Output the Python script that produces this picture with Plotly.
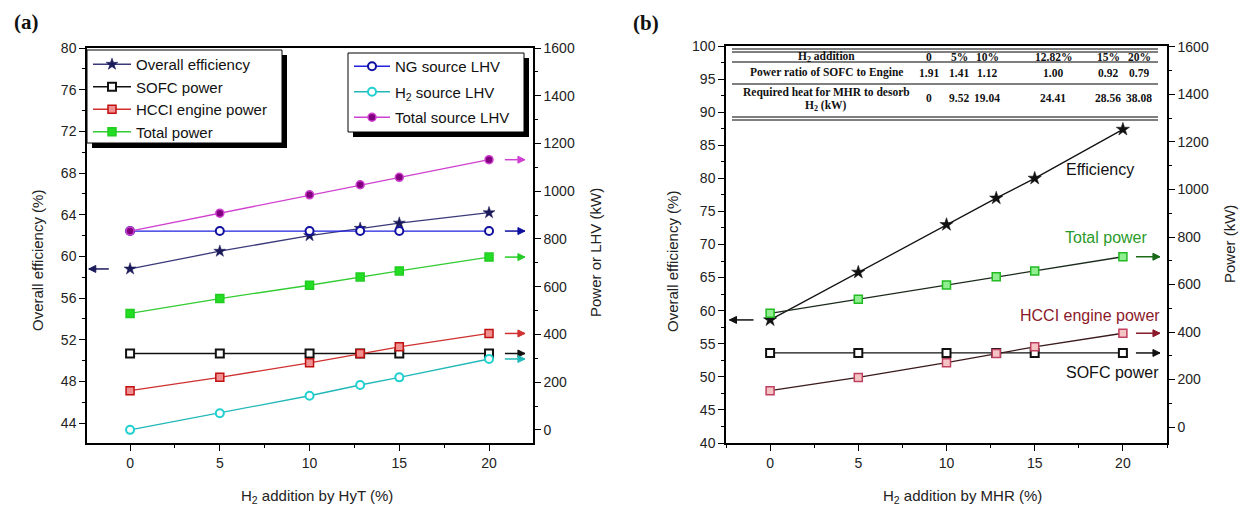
import plotly.graph_objects as go

W, H = 1248, 510

# ---------------- data ----------------
h2_pct = [0, 5, 10, 12.82, 15, 20]

# panel (a) - HyT
eff_a = [58.8, 60.5, 62.0, 62.7, 63.2, 64.2]
sofc_a = [320, 320, 320, 320, 320, 320]
hcci_a = [164, 220, 281, 320, 348, 404]
total_a = [488, 550, 606, 641, 666, 724]
ng_lhv_a = [833, 833, 833, 833, 833, 833]
h2_lhv_a = [0, 70, 143, 188, 220, 297]
tot_lhv_a = [833, 908, 985, 1027, 1058, 1132]

# panel (b) - MHR
eff_b = [58.6, 65.8, 73.0, 77.0, 80.0, 87.4]
total_b = [479, 538, 598, 633, 657, 717]
hcci_b = [153, 209, 271, 310, 338, 395]
sofc_b = [312, 312, 312, 312, 312, 312]

# table in panel (b)
tbl_header = ["H<sub>2</sub> addition", "0", "5%", "10%", "12.82%", "15%", "20%"]
tbl_ratio = ["Power ratio of SOFC to Engine", "1.91", "1.41", "1.12", "1.00", "0.92", "0.79"]
tbl_heat_label = ["Required heat for MHR to desorb", "H<sub>2</sub> (kW)"]
tbl_heat = ["0", "9.52", "19.04", "24.41", "28.56", "38.08"]

x_ticks = [0, 5, 10, 15, 20]


def px(x):
    return x / W


def py(y):
    return 1 - y / H


FONT = "Liberation Sans, Arial, sans-serif"
SERIF = "Liberation Serif, Times New Roman, serif"

fig = go.Figure()


def add(x, y, name, xa, ya, line_color, symbol, mfill, mline, legend=None, size=8, mlw=1.5, show=True):
    fig.add_trace(go.Scatter(
        x=x, y=y, name=name, mode="lines+markers", xaxis=xa, yaxis=ya,
        line=dict(color=line_color, width=1.3),
        marker=dict(symbol=symbol, size=size, color=mfill, line=dict(color=mline, width=mlw)),
        showlegend=show, legend=legend if legend else "legend", legendgroup=name,
    ))


# panel (a)
add(h2_pct, eff_a, "Overall efficiency", "x", "y", "#3a3a7a", "star", "#1a1a5a", "#1a1a5a", "legend", size=9, mlw=0.5)
add(h2_pct, sofc_a, "SOFC power", "x", "y2", "#111111", "square", "#ffffff", "#111111", "legend", mlw=2)
add(h2_pct, hcci_a, "HCCI engine power", "x", "y2", "#d03030", "square", "#f09090", "#c01010", "legend")
add(h2_pct, total_a, "Total power", "x", "y2", "#33cc33", "square", "#22dd22", "#22cc22", "legend")
add(h2_pct, ng_lhv_a, "NG source LHV", "x", "y2", "#2020e0", "circle", "#ffffff", "#1010a0", "legend2", mlw=2)
add(h2_pct, h2_lhv_a, "H<sub>2</sub> source LHV", "x", "y2", "#20b8b8", "circle", "#ffffff", "#20d0d0", "legend2", mlw=2)
add(h2_pct, tot_lhv_a, "Total source LHV", "x", "y2", "#d040d0", "circle", "#800080", "#d040d0", "legend2")

# panel (b)
add(h2_pct, eff_b, "Efficiency", "x2", "y3", "#111111", "star", "#111111", "#111111", size=10, mlw=0.5, show=False)
add(h2_pct, total_b, "Total power (b)", "x2", "y4", "#1a2a1a", "square", "#90ee90", "#22bb22", show=False)
add(h2_pct, sofc_b, "SOFC power (b)", "x2", "y4", "#111111", "square", "#ffffff", "#111111", mlw=2, show=False)
add(h2_pct, hcci_b, "HCCI engine power (b)", "x2", "y4", "#3a1a1a", "square", "#f4c4c4", "#c04060", show=False)

tickfont = dict(family=FONT, size=14, color="#222")
common = dict(showline=True, linecolor="black", linewidth=1.5, ticks="outside", ticklen=6,
              tickwidth=1.2, tickcolor="black", showgrid=False, zeroline=False, tickfont=tickfont,
              automargin=False)

fig.update_layout(
    template="none",
    width=W, height=H, margin=dict(l=0, r=0, t=0, b=0, pad=0, autoexpand=False),
    paper_bgcolor="white", plot_bgcolor="white",
    font=dict(family=FONT, size=14, color="#222"),
    xaxis=dict(domain=[px(87), px(533)], range=[-2.4, 22.45], anchor="y", tickvals=x_ticks,
               mirror=True, minor=dict(ticks="outside", ticklen=3, dtick=2.5, tick0=0, tickcolor="black"), **common),
    yaxis=dict(domain=[py(443), py(48)], range=[42.1, 80], anchor="x", tick0=0, dtick=4,
               minor=dict(ticks="outside", ticklen=3, dtick=2, tick0=0, tickcolor="black"), **common),
    yaxis2=dict(range=[-55, 1600], overlaying="y", side="right", anchor="x", tick0=0, dtick=200,
                minor=dict(ticks="outside", ticklen=3, dtick=100, tick0=0, tickcolor="black"), **common),
    xaxis2=dict(domain=[px(726), px(1167)], range=[-2.5, 22.5], anchor="y3", tickvals=x_ticks,
                mirror=True, minor=dict(ticks="outside", ticklen=3, dtick=2.5, tick0=0, tickcolor="black"), **common),
    yaxis3=dict(domain=[py(443), py(46)], range=[40, 100], anchor="x2", tick0=0, dtick=5,
                minor=dict(ticks="outside", ticklen=3, dtick=2.5, tick0=0, tickcolor="black"), **common),
    yaxis4=dict(range=[-67, 1604], overlaying="y3", side="right", anchor="x2", tick0=0, dtick=200,
                minor=dict(ticks="outside", ticklen=3, dtick=100, tick0=0, tickcolor="black"), **common),
    legend=dict(x=px(88), y=py(48), xanchor="left", yanchor="top", bgcolor="rgba(0,0,0,0)", itemwidth=38,
                borderwidth=0, font=dict(family=FONT, size=15, color="#111"), tracegroupgap=0),
    legend2=dict(x=px(349), y=py(50), xanchor="left", yanchor="top", bgcolor="rgba(0,0,0,0)", itemwidth=36,
                 borderwidth=0, font=dict(family=FONT, size=15, color="#111"), tracegroupgap=3),
)

shapes = []


def rect(x0, y0, x1, y1, fill, line_w=0):
    shapes.append(dict(type="rect", xref="paper", yref="paper", x0=px(x0), x1=px(x1), y0=py(y1), y1=py(y0),
                       fillcolor=fill, line=dict(color="black", width=line_w), layer="above"))


def hline(x0, x1, y, w=1.2):
    shapes.append(dict(type="line", xref="paper", yref="paper", x0=px(x0), x1=px(x1), y0=py(y), y1=py(y),
                       line=dict(color="black", width=w), layer="above"))


def arrow(xref, yref, x, y, color, length):
    # length > 0: arrow points left (tail to the right); < 0: points right
    shapes.append(dict(type="line", xref=xref, yref=yref, xsizemode="pixel", ysizemode="pixel",
                       xanchor=x, yanchor=y, x0=0, x1=length, y0=0, y1=0,
                       line=dict(color=color, width=1.5), layer="above"))
    d = 7 if length > 0 else -7
    shapes.append(dict(type="path", xref=xref, yref=yref, xsizemode="pixel", ysizemode="pixel",
                       xanchor=x, yanchor=y, path=f"M0,0 L{d},3.5 L{d},-3.5 Z",
                       fillcolor=color, line=dict(color=color, width=1), layer="above"))


# legend boxes with shadow
rect(92, 55, 287, 148, "black")
rect(87, 50, 282, 143, "white", 1)
rect(353, 58, 529, 137, "black")
rect(348, 53, 524, 132, "white", 1)

# table lines
TX0, TX1 = 732, 1158
for yy in [49, 52, 62, 84, 117, 120]:
    hline(TX0, TX1, yy)

# arrows (a)
arrow("x", "y", -2.3, eff_a[0], "#1a1a5a", 20)
arrow("x", "y2", 22.0, tot_lhv_a[-1], "#d040d0", -20)
arrow("x", "y2", 22.0, ng_lhv_a[-1], "#1010a0", -20)
arrow("x", "y2", 22.0, total_a[-1], "#22cc22", -20)
arrow("x", "y2", 22.0, hcci_a[-1], "#d03030", -20)
arrow("x", "y2", 22.0, sofc_a[-1], "#111111", -20)
arrow("x", "y2", 22.0, h2_lhv_a[-1], "#20b8b8", -20)
# arrows (b)
arrow("x2", "y3", -2.3, eff_b[0], "#111111", 24)
arrow("x2", "y4", 22.1, total_b[-1], "#1a6a1a", -24)
arrow("x2", "y4", 22.1, hcci_b[-1], "#8b1a2a", -24)
arrow("x2", "y4", 22.1, sofc_b[-1], "#111111", -24)

fig.update_layout(shapes=shapes)

ann = []


def text(x, y, s, size=14, color="#222", angle=0, family=FONT, bold=False, xanchor="center"):
    if bold:
        s = "<b>" + s + "</b>"
    ann.append(dict(x=px(x), y=py(y), xref="paper", yref="paper", text=s, showarrow=False,
                    font=dict(family=family, size=size, color=color), textangle=angle,
                    xanchor=xanchor, yanchor="middle"))


# panel labels
text(26, 22, "(a)", size=21, color="#111", family=SERIF, bold=True)
text(646, 23, "(b)", size=21, color="#111", family=SERIF, bold=True)

# axis titles
text(317, 496, "H<sub>2</sub> addition by HyT (%)", size=15)
text(962, 496, "H<sub>2</sub> addition by MHR (%)", size=15)
text(37, 261, "Overall efficiency (%)", size=15, angle=-90)
text(595, 253, "Power or LHV (kW)", size=15, angle=-90)
text(672, 262, "Overall efficiency (%)", size=15, angle=-90)
text(1229, 244, "Power (kW)", size=15, angle=-90)

# series labels in (b)
text(1100, 170, "Efficiency", size=16, color="#111")
text(1106, 237, "Total power", size=16, color="#2a9a2a")
text(1090, 315, "HCCI engine power", size=16, color="#8b1a2a")
text(1112, 372, "SOFC power", size=16, color="#111")

# table text
TS = 11.5
col_x = [826, 929, 959, 987, 1053, 1108, 1139]
for cx, s in zip(col_x, tbl_header):
    text(cx, 57, s, size=TS, color="#111", family=SERIF, bold=True)
for cx, s in zip(col_x, tbl_ratio):
    text(cx, 73, s, size=TS, color="#111", family=SERIF, bold=True)
text(col_x[0], 92, tbl_heat_label[0], size=TS, color="#111", family=SERIF, bold=True)
text(col_x[0], 106, tbl_heat_label[1], size=TS, color="#111", family=SERIF, bold=True)
for cx, s in zip(col_x[1:], tbl_heat):
    text(cx, 98, s, size=TS, color="#111", family=SERIF, bold=True)

fig.update_layout(annotations=ann)

fig.write_html("out.html")
